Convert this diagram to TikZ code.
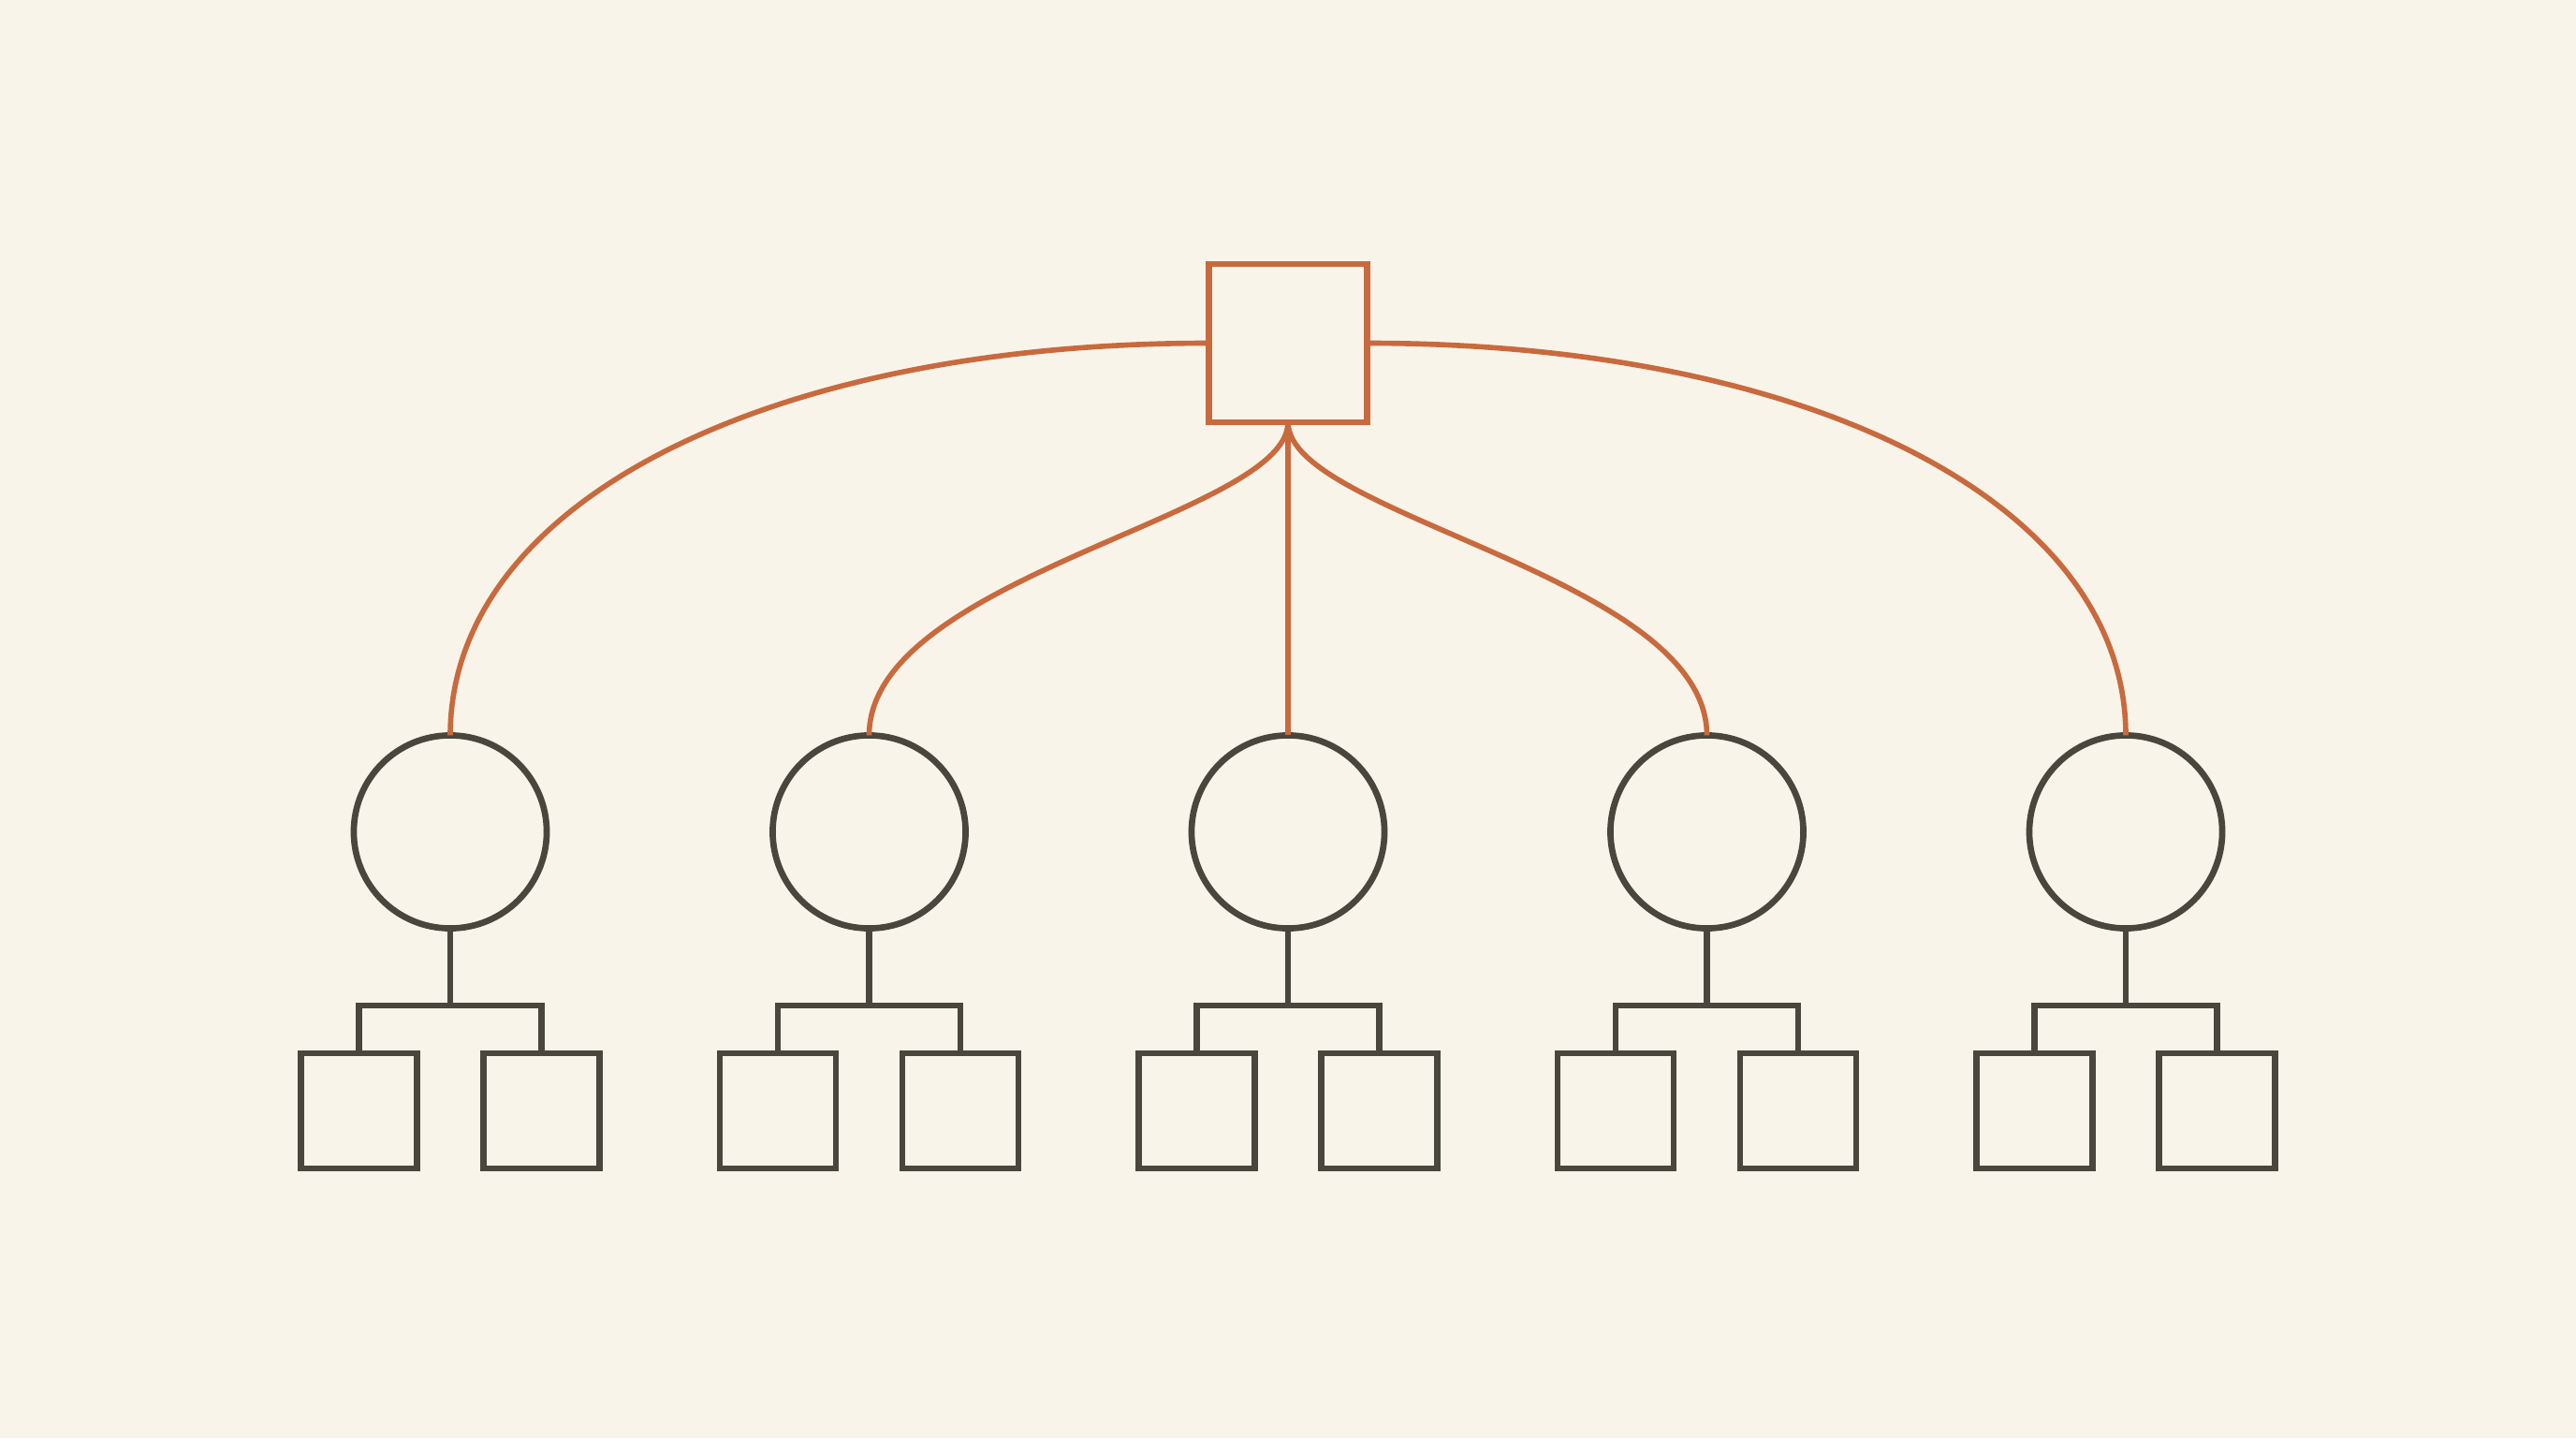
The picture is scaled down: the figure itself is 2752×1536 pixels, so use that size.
\documentclass[tikz,border=0pt]{standalone}
\definecolor{bgc}{RGB}{249,244,233}
\definecolor{orng}{RGB}{200,106,62}
\definecolor{dark}{RGB}{74,69,61}
\tikzset{
  topbox/.style={draw=orng, line width=1.9pt, minimum width=1.69cm, minimum height=1.69cm, inner sep=0pt, outer sep=0pt},
  midcirc/.style={draw=dark, circle, line width=1.9pt, minimum size=2.06cm, inner sep=0pt, outer sep=0pt},
  leafbox/.style={draw=dark, line width=1.9pt, minimum width=1.24cm, minimum height=1.23cm, inner sep=0pt, outer sep=0pt},
  orline/.style={draw=orng, line width=1.6pt},
  dkline/.style={draw=dark, line width=1.9pt}
}
\begin{document}
\begin{tikzpicture}[x=0.01cm, y=-0.01cm]
\fill[bgc] (0,0) rectangle (2752,1536);
\useasboundingbox (0,0) rectangle (2752,1536);
\node[topbox] (t) at (1376,366.5) {};
\foreach \i in {1,...,5} {
  \pgfmathsetmacro{\cx}{1376+(\i-3)*447.5}
  \node[midcirc] (c\i) at (\cx,888.5) {};
  \node[leafbox] (l\i) at (\cx-97.5,1186.5) {};
  \node[leafbox] (r\i) at (\cx+97.5,1186.5) {};
  \coordinate (j\i) at (\cx,1074);
  \draw[dkline] (c\i.south) -- (j\i);
  \draw[dkline] (l\i.north) |- (j\i) -| (r\i.north);
}
\draw[orline] (t.west) .. controls +(-470,0) and +(0,-250) .. (c1.north);
\draw[orline] (t.east) .. controls +(470,0) and +(0,-250) .. (c5.north);
\draw[orline] (t.south) .. controls +(0,100) and +(0,-170) .. (c2.north);
\draw[orline] (t.south) .. controls +(0,100) and +(0,-170) .. (c4.north);
\draw[orline] (t.south) -- (c3.north);
\end{tikzpicture}
\end{document}
